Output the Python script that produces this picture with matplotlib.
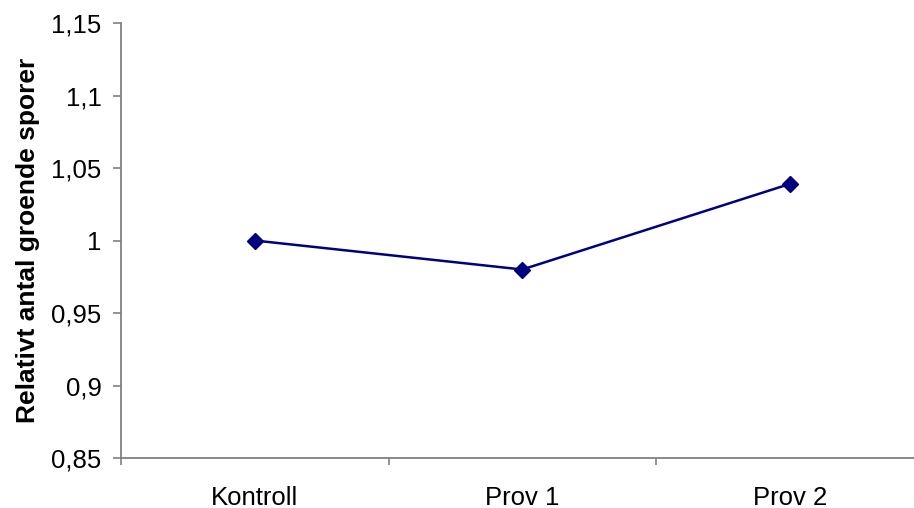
import matplotlib
matplotlib.use("Agg")
import matplotlib.pyplot as plt
from matplotlib.ticker import FixedLocator, FuncFormatter

# relative number of germinating spores per sample
categories = ["Kontroll", "Prov 1", "Prov 2"]
relative = [1.0, 0.98, 1.039]
y_ticks = [0.85, 0.9, 0.95, 1.0, 1.05, 1.1, 1.15]

plt.rcParams["font.family"] = ["Liberation Sans", "DejaVu Sans"]

fig = plt.figure(figsize=(9.14, 5.08), dpi=100)
ax = fig.add_axes([0.1324, 0.0984, 0.878, 0.8563])

x = list(range(len(categories)))
ax.plot(x, relative, "-", color="#000080", lw=1.8,
        marker="D", ms=8.5, mfc="#000080", mec="#000080")

ax.set_xlim(-0.5, len(categories) - 0.5)
ax.set_ylim(0.85, 1.15)
ax.set_yticks(y_ticks)
ax.yaxis.set_major_formatter(FuncFormatter(lambda v, _: f"{v:g}".replace(".", ",")))

# labels centred under each point, tick marks between categories
ax.set_xticks(x)
ax.set_xticklabels(categories)
ax.xaxis.set_minor_locator(FixedLocator([i - 0.5 for i in range(len(categories) + 1)]))
ax.tick_params(axis="x", which="major", length=0, pad=20, labelsize=18.5)
ax.tick_params(axis="x", which="minor", length=5, width=1.2, color="#808080", direction="out")
ax.tick_params(axis="y", length=6, width=1.2, color="#808080", direction="out",
               pad=8, labelsize=18.5)

for side in ("top", "right"):
    ax.spines[side].set_visible(False)
for side in ("left", "bottom"):
    ax.spines[side].set_color("#808080")
    ax.spines[side].set_linewidth(1.3)

ax.set_ylabel("Relativt antal groende sporer", fontsize=19, fontweight="bold")
ax.yaxis.set_label_coords(-0.101, 0.5)

fig.savefig("out.png", dpi=100)
